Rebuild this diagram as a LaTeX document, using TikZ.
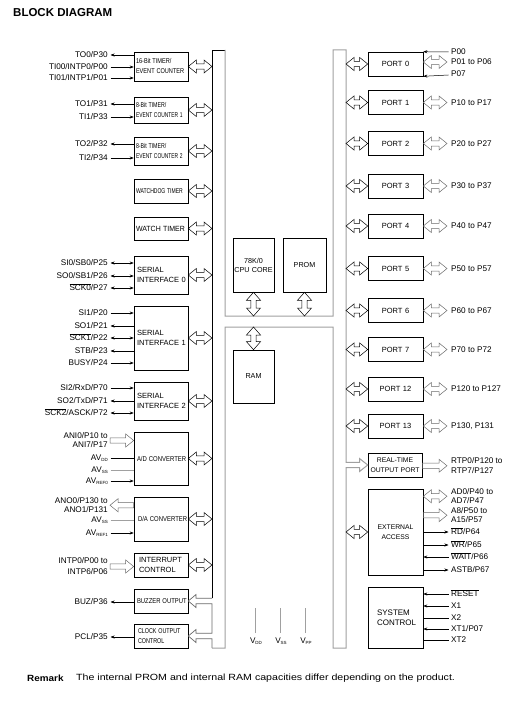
\documentclass[tikz,border=0pt]{standalone}
\usepackage{fontspec}
\setmainfont{Liberation Sans}
\usetikzlibrary{arrows.meta,calc}
\definecolor{busgray}{HTML}{A0A0A0}
\definecolor{agray}{HTML}{6A6A6A}
\newcommand{\cnd}[2]{\scalebox{#1}[1]{#2}}
\newcommand{\sbs}[1]{\raisebox{-0.5pt}{\fontsize{4.5}{5}\selectfont #1}}
\newcommand{\ovl}[1]{$\overline{\mbox{#1}}$}
% hollow arrows
\newcommand{\hdbl}[3][]{\draw[harr,#1] let \p1=(#2), \p2=(#3) in (\x1,\y1) -- (\x1+8pt,\y1+6.5pt) -- (\x1+8pt,\y1+2.7pt) -- (\x2-8pt,\y1+2.7pt) -- (\x2-8pt,\y1+6.5pt) -- (\x2,\y1) -- (\x2-8pt,\y1-6.5pt) -- (\x2-8pt,\y1-2.7pt) -- (\x1+8pt,\y1-2.7pt) -- (\x1+8pt,\y1-6.5pt) -- cycle;}
\newcommand{\hright}[3][]{\draw[harr,#1] let \p1=(#2), \p2=(#3) in (\x1,\y1+2.7pt) -- (\x2-8pt,\y1+2.7pt) -- (\x2-8pt,\y1+6.5pt) -- (\x2,\y1) -- (\x2-8pt,\y1-6.5pt) -- (\x2-8pt,\y1-2.7pt) -- (\x1,\y1-2.7pt) -- cycle;}
\newcommand{\hleft}[3][]{\draw[harr,#1] let \p1=(#2), \p2=(#3) in (\x1,\y1) -- (\x1+8pt,\y1+6.5pt) -- (\x1+8pt,\y1+2.7pt) -- (\x2,\y1+2.7pt) -- (\x2,\y1-2.7pt) -- (\x1+8pt,\y1-2.7pt) -- (\x1+8pt,\y1-6.5pt) -- cycle;}
\newcommand{\vdbl}[3][]{\draw[harr,#1] let \p1=(#2), \p2=(#3) in (\x1,\y1) -- (\x1+7pt,\y1-8pt) -- (\x1+2.7pt,\y1-8pt) -- (\x1+2.7pt,\y2+8pt) -- (\x1+7pt,\y2+8pt) -- (\x1,\y2) -- (\x1-7pt,\y2+8pt) -- (\x1-2.7pt,\y2+8pt) -- (\x1-2.7pt,\y1-8pt) -- (\x1-7pt,\y1-8pt) -- cycle;}
% signal lines
\newcommand{\LnIn}[2]{\draw[sig,->] ([xshift=2.5pt]#1.east) -- (#1.east -| #2.west);}
\newcommand{\LnOut}[2]{\draw[sig,->] (#1.east -| #2.west) -- ([xshift=2.5pt]#1.east);}
\newcommand{\LnBi}[2]{\draw[sig,<->] ([xshift=2.5pt]#1.east) -- (#1.east -| #2.west);}
\newcommand{\LnNo}[3][]{\draw[sig,#1] ([xshift=2.5pt]#2.east) -- (#2.east -| #3.west);}
\newcommand{\RnIn}[2]{\draw[sig,->] ([xshift=-2.5pt]#1.west) -- (#1.west -| #2.east);}
\newcommand{\RnOut}[2]{\draw[sig,->] (#1.west -| #2.east) -- ([xshift=-2.5pt]#1.west);}
\newcommand{\RnNo}[2]{\draw[sig] ([xshift=-2.5pt]#1.west) -- (#1.west -| #2.east);}
\tikzset{
  blk/.style={draw, line width=0.6pt, inner sep=3pt, font=\fontsize{7.5}{10}\selectfont},
  lb/.style={blk, inner xsep=2pt, minimum width=54pt, text width=50pt, align=left},
  pb/.style={blk, inner xsep=1pt, minimum width=55pt, minimum height=24pt, text width=53pt, align=center},
  cb/.style={blk, inner xsep=1pt, text width=39pt, align=center, font=\fontsize{7.2}{9}\selectfont},
  lblL/.style={anchor=east, inner sep=0pt, text height=5.9pt, text depth=0pt, font=\fontsize{8.2}{9}\selectfont},
  lblR/.style={anchor=west, inner sep=0pt, text height=5.9pt, text depth=0pt, font=\fontsize{8.2}{9}\selectfont},
  sig/.style={line width=0.5pt},
  harr/.style={line width=0.5pt, draw=black, line join=miter},
  gr/.style={draw=agray},
  busline/.style={draw=busgray, line width=1pt},
}
\begin{document}
\begin{tikzpicture}[x=1pt,y=-1pt, >={Stealth[length=4pt,width=3pt]}]
\useasboundingbox (0,0) rectangle (523,703);
\node[anchor=west, inner sep=0pt, font=\fontsize{11.5}{12}\selectfont\bfseries] (title) at (13,12.5) {BLOCK DIAGRAM};

\coordinate (busL) at (212,0);
\coordinate (busR) at (346,0);
\coordinate (pinR) at (447,0);
\coordinate (midtop) at (0,316);
\coordinate (midbot) at (0,327);

% ---------- left blocks ----------
\node[lb, minimum height=29pt, font=\fontsize{7}{10}\selectfont] (t16) at (161,66.5) {\cnd{0.8}{16-Bit TIMER/}\\\cnd{0.8}{EVENT COUNTER}};
\node[lb, minimum height=26pt, font=\fontsize{7}{10}\selectfont] (t1) at (161,110) {\cnd{0.75}{8-Bit TIMER/}\\\cnd{0.7}{EVENT COUNTER 1}};
\node[lb, minimum height=28pt, font=\fontsize{7}{10}\selectfont] (t2) at (161,151) {\cnd{0.75}{8-Bit TIMER/}\\\cnd{0.7}{EVENT COUNTER 2}};
\node[lb, minimum height=24pt, font=\fontsize{7}{9}\selectfont] (wdt) at (161,191) {\cnd{0.72}{WATCHDOG TIMER}};
\node[lb, minimum height=23pt] (wt) at (161,228.5) {\cnd{0.93}{WATCH TIMER}};
\node[lb, minimum height=38pt] (si0) at (161,275) {\hspace*{1pt}SERIAL\\\hspace*{1pt}INTERFACE 0};
\node[lb, minimum height=64pt] (si1) at (161,338) {\hspace*{1pt}SERIAL\\\hspace*{1pt}INTERFACE 1};
\node[lb, minimum height=38pt] (si2) at (161,401) {\hspace*{1pt}SERIAL\\\hspace*{1pt}INTERFACE 2};
\node[lb, minimum height=53pt, font=\fontsize{7}{9}\selectfont] (adc) at (161,458.5) {\hspace*{1pt}\cnd{0.85}{A/D CONVERTER}};
\node[lb, minimum height=44pt, font=\fontsize{7}{9}\selectfont] (dac) at (161,519) {\hspace*{2pt}\cnd{0.85}{D/A CONVERTER}};
\node[lb, minimum height=24pt] (intc) at (161,565) {\hspace*{3pt}INTERRUPT\\\hspace*{3pt}CONTROL};
\node[lb, minimum height=24pt, font=\fontsize{7}{9}\selectfont] (buz) at (161,601) {\hspace*{1pt}\cnd{0.84}{BUZZER OUTPUT}};
\node[lb, minimum height=24pt, font=\fontsize{7}{10}\selectfont] (clk) at (161,636) {\hspace*{2pt}\cnd{0.77}{CLOCK OUTPUT}\\\hspace*{2pt}\cnd{0.77}{CONTROL}};

% ---------- centre ----------
\node[cb, minimum width=41pt, minimum height=54pt] (cpu) at (253.5,265) {78K/0\\CPU CORE};
\node[cb, minimum width=43pt, minimum height=54pt] (prom) at (304.5,265) {PROM};
\node[cb, minimum width=41pt, minimum height=53pt] (ram) at (253.5,376.5) {RAM};

% ---------- ports ----------
\node[pb] (p0) at (395.5,64) {PORT 0};
\node[pb] (p1) at (395.5,102.5) {PORT 1};
\node[pb] (p2) at (395.5,143.5) {PORT 2};
\node[pb] (p3) at (395.5,186) {PORT 3};
\node[pb] (p4) at (395.5,226) {PORT 4};
\node[pb] (p5) at (395.5,268.5) {PORT 5};
\node[pb] (p6) at (395.5,310.5) {PORT 6};
\node[pb] (p7) at (395.5,349.5) {PORT 7};
\node[pb] (p12) at (395.5,389) {PORT 12};
\node[pb] (p13) at (395.5,426) {PORT 13};
\node[pb, minimum width=54pt, text width=52pt, font=\fontsize{6.8}{10}\selectfont] (rtp) at (395,465) {REAL-TIME\\OUTPUT PORT};
\node[pb, minimum height=86pt, font=\fontsize{6.8}{10}\selectfont] (ext) at (395.5,532) {EXTERNAL\\ACCESS};
\node[pb, minimum height=61pt, align=left, font=\fontsize{8}{10}\selectfont] (sys) at (395.5,617.5) {\hspace*{8pt}SYSTEM\\\hspace*{8pt}CONTROL};

% ---------- bus ----------
\draw[line width=0.7pt] (212,598.3) -- (212,50) -- (225,50);
\draw[busline] (225,50) -- (225,316) -- (333,316) -- (333,50) -- (346,50) -- (346,462.3) -- (359.5,462.3) -- (359.5,458.5) -- (rtp.west) -- (359.5,471.5) -- (359.5,467.7) -- (346,467.7) -- (346,648) -- (333,648) -- (333,327) -- (225,327) -- (225,648) -- (212,648);
\draw[draw=agray, line width=0.7pt] (212,648) -- (212,638.7) -- (196,638.7) -- (196,642.5) -- (clk.east) -- (196,629.5) -- (196,633.3) -- (212,633.3) -- (212,603.7) -- (196,603.7) -- (196,607.5) -- (buz.east) -- (196,594.5) -- (196,598.3) -- (212,598.3);

% left bus arrows
\foreach \b in {t16,t1,t2,wdt,wt,si0,si1,si2,adc,dac,intc} {\hdbl{\b.east}{busL |- \b.east}}
% centre arrows
\vdbl{cpu.south}{cpu.south |- midtop}
\vdbl{prom.south}{prom.south |- midtop}
\vdbl{ram.north |- midbot}{ram.north}
% right bus arrows
\foreach \q in {p0,p1,p2,p3,p4,p5,p6,p7,p12,p13} {\hdbl{busR |- \q.west}{\q.west}}
\hdbl{busR |- ext.west}{ext.west}
\foreach \q in {p1,p2,p3,p4,p5,p6,p7,p12,p13} {\hdbl[gr]{\q.east}{pinR |- \q.east}}

% ---------- left labels ----------
\node[lblL] (lto0) at (108,55) {TO0/P30};
\node[lblL] (lti00) at (108,67) {TI00/INTP0/P00};
\node[lblL] (lti01) at (108,78) {TI01/INTP1/P01};
\node[lblL] (lto1) at (108,104) {TO1/P31};
\node[lblL] (lti1) at (108,117) {TI1/P33};
\node[lblL] (lto2) at (108,144) {TO2/P32};
\node[lblL] (lti2) at (108,158) {TI2/P34};
\node[lblL] (lsi0) at (108,263) {SI0/SB0/P25};
\node[lblL] (lso0) at (108,276) {SO0/SB1/P26};
\node[lblL] (lsck0) at (108,288) {\ovl{SCK0}/P27};
\node[lblL] (lsi1) at (108,313) {SI1/P20};
\node[lblL] (lso1) at (108,326) {SO1/P21};
\node[lblL] (lsck1) at (108,338) {\ovl{SCK1}/P22};
\node[lblL] (lstb) at (108,351) {STB/P23};
\node[lblL] (lbusy) at (108,363) {BUSY/P24};
\node[lblL] (lsi2) at (108,388) {SI2/RxD/P70};
\node[lblL] (lso2) at (108,401) {SO2/TxD/P71};
\node[lblL] (lsck2) at (108,413) {\ovl{SCK2}/ASCK/P72};
\node[lblL] (lani0) at (108,436) {ANI0/P10 to};
\node[lblL] (lani7) at (108,445) {ANI7/P17};
\node[lblL] (lavdd) at (108,458) {AV\sbs{DD}};
\node[lblL] (lavss) at (108,470) {AV\sbs{SS}};
\node[lblL] (lavref0) at (108,481) {AV\sbs{REF0}};
\node[lblL] (lano0) at (108,501) {ANO0/P130 to};
\node[lblL] (lano1) at (108,509.5) {ANO1/P131};
\node[lblL] (lavss2) at (108,520) {AV\sbs{SS}};
\node[lblL] (lavref1) at (108,533) {AV\sbs{REF1}};
\node[lblL] (lintp0) at (108,561) {INTP0/P00 to};
\node[lblL] (lintp6) at (108,572) {INTP6/P06};
\node[lblL] (lbuz) at (108,602) {BUZ/P36};
\node[lblL] (lpcl) at (108,637) {PCL/P35};

\LnOut{lto0}{t16} \LnIn{lti00}{t16} \LnIn{lti01}{t16}
\LnOut{lto1}{t1} \LnIn{lti1}{t1}
\LnOut{lto2}{t2} \LnIn{lti2}{t2}
\LnBi{lsi0}{si0} \LnBi{lso0}{si0} \LnBi{lsck0}{si0}
\LnIn{lsi1}{si1} \LnOut{lso1}{si1} \LnBi{lsck1}{si1} \LnOut{lstb}{si1} \LnIn{lbusy}{si1}
\LnIn{lsi2}{si2} \LnOut{lso2}{si2} \LnBi{lsck2}{si2}
\LnNo{lavdd}{adc} \LnNo[busgray]{lavss}{adc} \LnIn{lavref0}{adc}
\LnNo[busgray]{lavss2}{dac} \LnIn{lavref1}{dac}
\LnOut{lbuz}{buz} \LnOut{lpcl}{clk}
\coordinate (aniy) at ($(lani0.east)!0.5!(lani7.east)+(2,0)$);
\coordinate (anoy) at ($(lano0.east)!0.5!(lano1.east)+(2,0)$);
\coordinate (intpy) at ($(lintp0.east)!0.5!(lintp6.east)+(2,0)$);
\hright[gr]{aniy}{adc.west}
\hleft[gr]{anoy}{dac.west}
\hright[gr]{intpy}{intc.west}

% ---------- right labels ----------
\node[lblR] (lp00) at (451,52) {P00};
\node[lblR] (lp01) at (451,62) {P01 to P06};
\node[lblR] (lp07) at (451,73.5) {P07};
\node[lblR] (lp1) at (451,102.5) {P10 to P17};
\node[lblR] (lp2) at (451,143.5) {P20 to P27};
\node[lblR] (lp3) at (451,186) {P30 to P37};
\node[lblR] (lp4) at (451,226) {P40 to P47};
\node[lblR] (lp5) at (451,268.5) {P50 to P57};
\node[lblR] (lp6) at (451,310.5) {P60 to P67};
\node[lblR] (lp7) at (451,349.5) {P70 to P72};
\node[lblR] (lp12) at (451,389) {P120 to P127};
\node[lblR] (lp13) at (451,426) {P130, P131};
\node[lblR] (lrtp0) at (451,461) {RTP0/P120 to};
\node[lblR] (lrtp7) at (451,470.5) {RTP7/P127};
\node[lblR] (lad0) at (451,492) {AD0/P40 to};
\node[lblR] (lad7) at (451,500.5) {AD7/P47};
\node[lblR] (la8) at (451,511) {A8/P50 to};
\node[lblR] (la15) at (451,519.5) {A15/P57};
\node[lblR] (lrd) at (451,532) {\ovl{RD}/P64};
\node[lblR] (lwr) at (451,545) {\ovl{WR}/P65};
\node[lblR] (lwait) at (451,557) {\ovl{WAIT}/P66};
\node[lblR] (lastb) at (451,570) {ASTB/P67};
\node[lblR] (lreset) at (451,594) {\ovl{RESET}};
\node[lblR] (lx1) at (451,606) {X1};
\node[lblR] (lx2) at (451,618) {X2};
\node[lblR] (lxt1) at (451,629) {XT1/P07};
\node[lblR] (lxt2) at (451,640) {XT2};

\draw[sig,->] ([xshift=-2.5pt]lp00.west) -- (p0.north east);
\draw[sig,->] ([xshift=-2.5pt,yshift=-1.5pt]lp07.west) -- (p0.south east);
\hdbl[gr]{p0.east |- lp01.west}{pinR |- lp01.west}
\coordinate (rtpy) at ($(lrtp0.west)!0.5!(lrtp7.west)$);
\coordinate (ady) at ($(lad0.west)!0.5!(lad7.west)$);
\coordinate (a8y) at ($(la8.west)!0.5!(la15.west)$);
\hright[gr]{rtp.east |- rtpy}{pinR |- rtpy}
\hdbl[gr]{ext.east |- ady}{pinR |- ady}
\hright[gr]{ext.east |- a8y}{pinR |- a8y}
\RnOut{lrd}{ext} \RnOut{lwr}{ext} \RnIn{lwait}{ext} \RnOut{lastb}{ext}
\RnIn{lreset}{sys} \RnIn{lx1}{sys} \RnNo{lx2}{sys} \RnIn{lxt1}{sys} \RnNo{lxt2}{sys}

% ---------- supplies ----------
\node[lblL, anchor=center] (vdd) at (256,641) {V\sbs{DD}};
\node[lblL, anchor=center] (vss) at (281,641) {V\sbs{SS}};
\node[lblL, anchor=center] (vpp) at (306,641) {V\sbs{PP}};
\draw[busgray, line width=0.8pt] (255,633) -- (255,608);
\draw[busgray, line width=0.8pt] (280,633) -- (280,608);
\draw[busgray, line width=0.8pt] (305,633) -- (305,608);

% ---------- remark ----------
\node[anchor=west, inner sep=0pt, font=\fontsize{9}{10}\selectfont\bfseries] (rem) at (27,678.5) {\cnd{1.1}{Remark}};
\node[anchor=west, inner sep=0pt, font=\fontsize{9}{10}\selectfont] (remt) at (76,678.5) {\cnd{1.18}{The internal PROM and internal RAM capacities differ depending on the product.}};
\end{tikzpicture}
\end{document}
